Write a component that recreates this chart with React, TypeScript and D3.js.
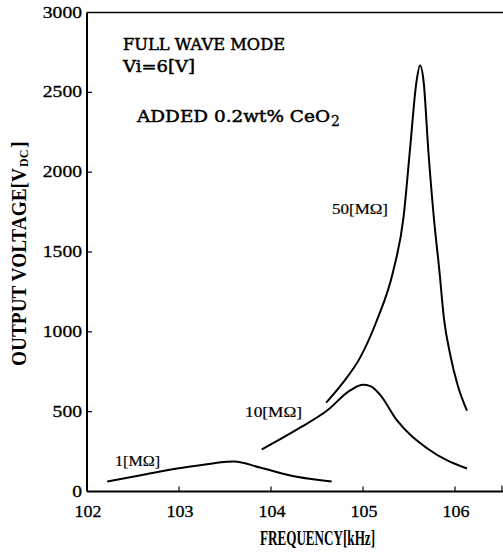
import * as React from 'react';
import * as d3 from 'd3';

// values
const freq1 = [102.22, 102.6, 102.98, 103.3, 103.52, 103.6, 103.88, 104.28, 104.66];
const volt1 = [63, 104, 144, 170, 186, 188, 150, 92, 63];

const freq10 = [103.9, 104.32, 104.61, 104.86, 105.0, 105.08, 105.18, 105.37, 105.7, 106.13];
const volt10 = [263, 401, 507, 633, 668, 660, 610, 445, 269, 144];

const freq50 = [104.6, 104.78, 104.97, 105.15, 105.33, 105.44, 105.51, 105.58, 105.62, 105.66, 105.71, 105.77, 105.83, 105.88, 105.95, 106.03, 106.13];
const volt50 = [557, 680, 840, 1071, 1384, 1716, 2136, 2561, 2668, 2561, 2136, 1716, 1384, 1083, 852, 664, 507];

const xTicks = [102, 103, 104, 105, 106];
const yTicks = [0, 500, 1000, 1500, 2000, 2500, 3000];

const W = 503;
const H = 556;

const serif = "'Liberation Serif', 'DejaVu Serif', serif";
const slab = "'DejaVu Serif', 'Liberation Serif', serif";

const App: React.FC = () => {
    const x = d3.scaleLinear().domain([102, 106.5]).range([87, 501]);
    const y = d3.scaleLinear().domain([0, 3000]).range([491.5, 12.5]);

    const line = d3.line<[number, number]>()
        .x(d => x(d[0]))
        .y(d => y(d[1]))
        .curve(d3.curveMonotoneX);

    const series = [
        { f: freq1, v: volt1 },
        { f: freq10, v: volt10 },
        { f: freq50, v: volt50 },
    ];

    return (
        <div style={{ position: 'absolute', left: 0, top: 0, background: '#fff' }}>
            <svg width={W} height={H} style={{ display: 'block' }}>
                <rect width={W} height={H} fill='#fff' />

                {/* frame */}
                <line x1={x(102)} x2={W} y1={y(3000)} y2={y(3000)} stroke='#000' strokeWidth={1.4} />
                <line x1={x(102)} x2={W} y1={y(0)} y2={y(0)} stroke='#000' strokeWidth={2} />
                <line x1={x(102)} x2={x(102)} y1={y(3000)} y2={y(0)} stroke='#000' strokeWidth={2} />
                <line x1={x(106.5) + 1} x2={x(106.5) + 1} y1={y(0)} y2={y(0) - 6} stroke='#000' strokeWidth={1.2} />

                {/* x ticks */}
                {xTicks.map(t => (
                    <g key={'x' + t}>
                        {t !== 102 && <line x1={x(t)} x2={x(t)} y1={y(0)} y2={y(0) - 5} stroke='#000' strokeWidth={1.2} />}
                        <text x={x(t) + 1} y={517} textAnchor='middle' fontFamily={serif} fontSize={17}
                            stroke='#000' strokeWidth={0.3}
                            textLength={27} lengthAdjust='spacingAndGlyphs'>{t}</text>
                    </g>
                ))}

                {/* y ticks */}
                {yTicks.map(t => (
                    <g key={'y' + t}>
                        {t !== 0 && t !== 3000 && <line x1={x(102)} x2={x(102) + 5} y1={y(t)} y2={y(t)} stroke='#000' strokeWidth={1.2} />}
                        <text x={82} y={y(t) + 5} textAnchor='end' fontFamily={serif} fontSize={16}
                            stroke='#000' strokeWidth={0.3}
                            textLength={String(t).length * 9.8} lengthAdjust='spacingAndGlyphs'>{t}</text>
                    </g>
                ))}

                {/* axis titles */}
                <text x={260} y={545} fontFamily={serif} fontSize={20} fontWeight='bold'
                    textLength={115} lengthAdjust='spacingAndGlyphs'>FREQUENCY[kHz]</text>
                <g transform={`translate(26,${366}) rotate(-90)`}>
                    <text x={0} y={0} fontFamily={serif} fontSize={20} fontWeight='bold'
                        textLength={198} lengthAdjust='spacingAndGlyphs'>OUTPUT VOLTAGE[V</text>
                    <text x={199} y={2} fontFamily={serif} fontSize={12} fontWeight='bold'>DC</text>
                    <text x={218} y={0} fontFamily={serif} fontSize={20} fontWeight='bold'>]</text>
                </g>

                {/* curves */}
                {series.map((s, i) => (
                    <path key={i} d={line(s.f.map((f, j) => [f, s.v[j]] as [number, number])) || ''}
                        fill='none' stroke='#000' strokeWidth={2} strokeLinejoin='round' />
                ))}

                {/* annotations */}
                <text x={123} y={50} fontFamily={slab} fontSize={17}
                    stroke='#000' strokeWidth={0.5}
                    textLength={162} lengthAdjust='spacingAndGlyphs'>FULL WAVE MODE</text>
                <text x={123} y={72} fontFamily={slab} fontSize={17}
                    stroke='#000' strokeWidth={0.5}
                    textLength={72} lengthAdjust='spacingAndGlyphs'>Vi=6[V]</text>
                <text x={137} y={122} fontFamily={slab} fontSize={17}
                    stroke='#000' strokeWidth={0.5}
                    textLength={193} lengthAdjust='spacingAndGlyphs'>ADDED 0.2wt% CeO</text>
                <text x={331} y={126} fontFamily={slab} fontSize={14}
                    stroke='#000' strokeWidth={0.3}>2</text>

                <text x={332} y={214} fontFamily={serif} fontSize={15}
                    stroke='#000' strokeWidth={0.2}
                    textLength={56} lengthAdjust='spacingAndGlyphs'>50[MΩ]</text>
                <text x={245} y={417} fontFamily={serif} fontSize={15}
                    stroke='#000' strokeWidth={0.2}
                    textLength={57} lengthAdjust='spacingAndGlyphs'>10[MΩ]</text>
                <text x={115} y={466} fontFamily={serif} fontSize={15}
                    stroke='#000' strokeWidth={0.2}
                    textLength={45} lengthAdjust='spacingAndGlyphs'>1[MΩ]</text>
            </svg>
        </div>
    );
};

export default App;
